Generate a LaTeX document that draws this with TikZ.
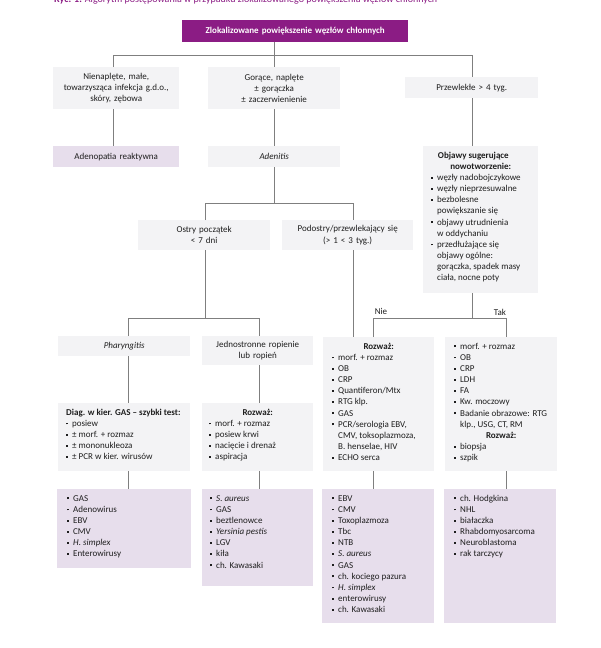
\documentclass[tikz,border=0pt]{standalone}
\usepackage{fontspec}
\setmainfont{Carlito}
\definecolor{plum}{HTML}{8B1C84}
\definecolor{boxgray}{HTML}{F3F3F5}
\definecolor{boxlilac}{HTML}{E7DEEC}
\definecolor{linegray}{HTML}{7F7F7F}
\definecolor{txt}{HTML}{1E1E1E}
\newcommand\blt{\raisebox{2pt}{\rule{1.8pt}{1.8pt}}}
\newcommand\itm[1]{\par\hangindent=6pt\hangafter=1\noindent\rule{0pt}{7pt}\makebox[6pt][l]{\blt}{#1}}
\newcommand\hdc[1]{\par{\leftskip=0pt plus 1fil\rightskip=0pt plus 1fil\parfillskip=0pt\noindent\rule{0pt}{7pt}\textbf{#1}\par}}
\newcommand\hdl[1]{\par\noindent\rule{0pt}{7pt}\textbf{#1}}
\newcommand\lstbox[4]{\parbox[c][#2pt][t]{#1pt}{\fontsize{9}{11.15}\selectfont\vspace*{5pt}\leftskip=#3pt\rightskip=-20pt plus 1fil\parindent=0pt #4\par}}
\tikzset{
  cbox/.style={anchor=north west, inner sep=0pt, align=center, text=txt,
    font=\fontsize{9}{11.15}\selectfont},
  lbx/.style={anchor=north west, inner sep=0pt, text=txt},
  gfill/.style={fill=boxgray},
  lfill/.style={fill=boxlilac},
  conn/.style={draw=linegray, line width=0.8pt},
  lbl/.style={anchor=base, inner sep=0pt, text=txt, font=\fontsize{9}{11}\selectfont}
}
\begin{document}
\begin{tikzpicture}[x=1pt,y=-1pt]
\fill[white] (0,0) rectangle (600,648);
\useasboundingbox (0,0) rectangle (600,648);

\node[anchor=base west, inner sep=0pt, text=plum, font=\fontsize{10}{12}\selectfont] (cap) at (54,2.5)
  {\textbf{Ryc. 1.} Algorytm postępowania w przypadku zlokalizowanego powiększenia węzłów chłonnych};

\node[cbox, fill=plum, text=white, minimum width=226pt, text width=226pt, minimum height=22pt, font=\fontsize{9}{11}\selectfont\bfseries] (top) at (182,20)
  {Zlokalizowane powiększenie węzłów chłonnych};

\node[cbox, gfill, text width=126pt, minimum height=42pt] (n1) at (53,67)
  {Nienaplęte, małe,\\towarzysząca infekcja g.d.o.,\\skóry, zębowa};
\node[cbox, gfill, text width=132pt, minimum height=42pt] (n2) at (208,67)
  {Gorące, naplęte\\± gorączka\\± zaczerwienienie};
\node[cbox, gfill, text width=133pt, minimum height=21pt] (n3) at (405,77)
  {Przewlekłe > 4 tyg.};

\node[cbox, lfill, text width=126pt, minimum height=21pt] (adeno) at (53,146)
  {Adenopatia reaktywna};
\node[cbox, gfill, text width=132pt, minimum height=21pt] (aden) at (208,146)
  {\itshape Adenitis};

\node[lbx, gfill] (obj) at (423,146) {\lstbox{115}{147}{8}{%
  \hdc{Objawy sugerujące\\nowotworzenie:}%
  \itm{węzły nadobojczykowe}%
  \itm{węzły nieprzesuwalne}%
  \itm{bezbolesne\\powiększanie się}%
  \itm{objawy utrudnienia\\w oddychaniu}%
  \itm{przedłużające się\\objawy ogólne:\\gorączka, spadek masy\\ciała, nocne poty}}};

\node[cbox, gfill, text width=132pt, minimum height=30pt] (ostry) at (138,220)
  {Ostry początek\\< 7 dni};
\node[cbox, gfill, text width=131pt, minimum height=30pt] (podo) at (282,220)
  {Podostry/przewlekający się\\(> 1 < 3 tyg.)};

\node[cbox, gfill, text width=132pt, minimum height=20pt] (phar) at (58,336)
  {\itshape Pharyngitis};
\node[cbox, gfill, text width=111pt, minimum height=29pt] (jedn) at (202,336)
  {Jednostronne ropienie\\lub ropień};

\node[lbx, gfill] (diag) at (58,403) {\lstbox{132}{68}{8}{%
  \hdl{Diag. w kier. GAS – szybki test:}%
  \itm{posiew}%
  \itm{± morf. + rozmaz}%
  \itm{± mononukleoza}%
  \itm{± PCR w kier. wirusów}}};
\node[lbx, gfill] (rozl) at (202,403) {\lstbox{111}{68}{7}{%
  \hdc{Rozważ:}%
  \itm{morf. + rozmaz}%
  \itm{posiew krwi}%
  \itm{nacięcie i drenaż}%
  \itm{aspiracja}}};
\node[lbx, gfill] (rozm) at (323,337) {\lstbox{111}{134}{9}{%
  \hdc{Rozważ:}%
  \itm{morf. + rozmaz}%
  \itm{OB}%
  \itm{CRP}%
  \itm{Quantiferon/Mtx}%
  \itm{RTG klp.}%
  \itm{GAS}%
  \itm{PCR/serologia EBV,\\CMV, toksoplazmoza,\\B. henselae, HIV}%
  \itm{ECHO serca}}};
\node[lbx, gfill] (tak) at (445,337) {\lstbox{112}{134}{9}{%
  \itm{morf. + rozmaz}%
  \itm{OB}%
  \itm{CRP}%
  \itm{LDH}%
  \itm{FA}%
  \itm{Kw. moczowy}%
  \itm{Badanie obrazowe: RTG\\klp., USG, CT, RM}%
  \hdc{Rozważ:}%
  \itm{biopsja}%
  \itm{szpik}}};

\node[lbx, lfill] (b1) at (57,489) {\lstbox{134}{79}{10}{%
  \itm{GAS}\itm{Adenowirus}\itm{EBV}\itm{CMV}\itm{\itshape H. simplex}\itm{Enterowirusy}}};
\node[lbx, lfill] (b2) at (202,489) {\lstbox{111}{97}{8}{%
  \itm{\itshape S. aureus}\itm{GAS}\itm{beztlenowce}\itm{\itshape Yersinia pestis}\itm{LGV}\itm{kiła}\itm{ch. Kawasaki}}};
\node[lbx, lfill] (b3) at (322,489) {\lstbox{112}{134}{10}{%
  \itm{EBV}\itm{CMV}\itm{Toxoplazmoza}\itm{Tbc}\itm{NTB}\itm{\itshape S. aureus}\itm{GAS}%
  \itm{ch. kociego pazura}\itm{\itshape H. simplex}\itm{enterowirusy}\itm{ch. Kawasaki}}};
\node[lbx, lfill] (b4) at (444,489) {\lstbox{112}{134}{10}{%
  \itm{ch. Hodgkina}\itm{NHL}\itm{białaczka}\itm{Rhabdomyosarcoma}\itm{Neuroblastoma}\itm{rak tarczycy}}};

% junction coordinates
\coordinate (ka) at (113,55); \coordinate (kb) at (274,55); \coordinate (kc) at (472,55);
\coordinate (la) at (205,203); \coordinate (lb) at (274,203); \coordinate (lc) at (353,203);
\coordinate (ma) at (128,318); \coordinate (mb) at (205,318); \coordinate (mc) at (259,318);
\coordinate (na) at (373,318); \coordinate (nb) at (472,318); \coordinate (nc) at (506,318);

\draw[conn] (top.south -| kb) -- (kb);
\draw[conn] (n1.north -| ka) -- (ka) -- (kc) -- (n3.north -| kc);
\draw[conn] (kb) -- (n2.north -| kb);
\draw[conn] (n1.south -| ka) -- (adeno.north -| ka);
\draw[conn] (n2.south -| kb) -- (aden.north -| kb);
\draw[conn] (n3.south -| kc) -- (obj.north -| kc);

\draw[conn] (aden.south -| lb) -- (lb);
\draw[conn] (ostry.north -| la) -- (la) -- (lc) -- (podo.north -| lc);

\draw[conn] (ostry.south -| mb) -- (mb);
\draw[conn] (phar.north -| ma) -- (ma) -- (mc) -- (jedn.north -| mc);
\draw[conn] (podo.south -| lc) -- (rozm.north -| lc);

\draw[conn] (obj.south -| nb) -- (nb);
\draw[conn] (rozm.north -| na) -- (na) -- (nc) -- (tak.north -| nc);
\node[lbl] (nie) at (381,314) {Nie};
\node[lbl] (takl) at (500,315) {Tak};

\draw[conn] (phar.south -| ma) -- (diag.north -| ma);
\draw[conn] (jedn.south -| mc) -- (rozl.north -| mc);
\draw[conn] (diag.south -| ma) -- (b1.north -| ma);
\draw[conn] (rozl.south -| mc) -- (b2.north -| mc);
\draw[conn] (rozm.south -| na) -- (b3.north -| na);
\draw[conn] (tak.south -| nc) -- (b4.north -| nc);
\end{tikzpicture}
\end{document}
